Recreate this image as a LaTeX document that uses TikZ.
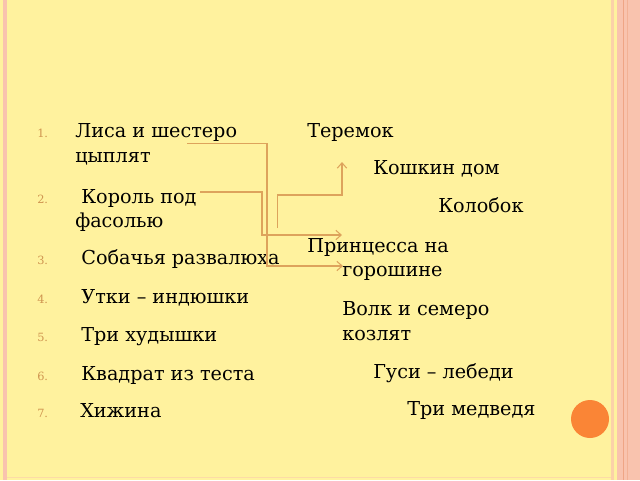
\documentclass[tikz,border=0pt]{standalone}
\usepackage{fontspec}
\setmainfont{DejaVu Serif}
\usetikzlibrary{arrows.meta}
\definecolor{bgyellow}{HTML}{FFF29E}
\definecolor{bordpink}{HTML}{F9C3AE}
\definecolor{borddark}{HTML}{EFA585}
\definecolor{linetan}{HTML}{DDA35C}
\definecolor{numtan}{HTML}{CF9550}
\definecolor{dotorange}{HTML}{FA8536}
\tikzset{
  txt/.style={anchor=base west, inner sep=0pt, font=\fontsize{14.4pt}{17pt}\selectfont, text=black},
  num/.style={anchor=base west, inner sep=0pt, font=\fontsize{8.5pt}{9pt}\selectfont, text=numtan},
  conn/.style={draw=linetan, line width=0.8pt},
  arr/.style={conn, -{Straight Barb[length=4pt,width=7pt,line width=0.8pt]}},
}
\begin{document}
\begin{tikzpicture}[x=0.75pt,y=-0.75pt]
\useasboundingbox (0,0) rectangle (640,480);
\fill[bgyellow] (0,0) rectangle (640,480);
% borders
\fill[bordpink] (3,0) rectangle (7,480);
\fill[bordpink!70!bgyellow] (611,0) rectangle (614,480);
\fill[bordpink] (617,0) rectangle (640,480);
\fill[borddark] (622.5,0) rectangle (624,480);
\fill[borddark!60!bordpink] (627,0) rectangle (628,480);
\fill[bordpink!50!bgyellow] (7,476.5) rectangle (611,478);
% circle
\fill[dotorange] (590,419) circle (19);
% numbers
\foreach \n/\y in {1/137,2/203,3/264,4/303,5/341,6/380,7/417}
  \node[num] (n\n) at (37,\y) {\n.};
% left items
\node[txt] (l1a) at (75,137) {Лиса и шестеро};
\node[txt] (l1b) at (75,162) {цыплят};
\node[txt] (l2a) at (75,203) {\ Король под};
\node[txt] (l2b) at (75,227) {фасолью};
\node[txt] (l3) at (75,264) {\ Собачья развалюха};
\node[txt] (l4) at (75,303) {\ Утки – индюшки};
\node[txt] (l5) at (75,341) {\ Три худышки};
\node[txt] (l6) at (75,380) {\ Квадрат из теста};
\node[txt] (l7) at (80,417) {Хижина};
% right items
\node[txt] (r1) at (307,137) {Теремок};
\node[txt] (r2) at (373,174) {Кошкин дом};
\node[txt] (r3) at (438,212) {Колобок};
\node[txt] (r4a) at (307,252) {Принцесса на};
\node[txt] (r4b) at (342,276) {горошине};
\node[txt] (r5a) at (342,315) {Волк и семеро};
\node[txt] (r5b) at (342,340) {козлят};
\node[txt] (r6) at (373,378) {Гуси – лебеди};
\node[txt] (r7) at (407,415) {Три медведя};
% connectors
\coordinate (a1s) at (187,143.5);
\coordinate (a1e) at (343,266);
\coordinate (a2s) at (200,192);
\coordinate (a2e) at (342,235);
\coordinate (a3s) at (277.5,228);
\coordinate (a3e) at (342,162);
\draw[arr] (a1s) -- (267,143.5) -- (267,266) -- (a1e);
\draw[arr] (a2s) -- (262,192) -- (262,235) -- (a2e);
\draw[arr] (a3s) -- (277.5,195) -- (342,195) -- (a3e);
\end{tikzpicture}
\end{document}
